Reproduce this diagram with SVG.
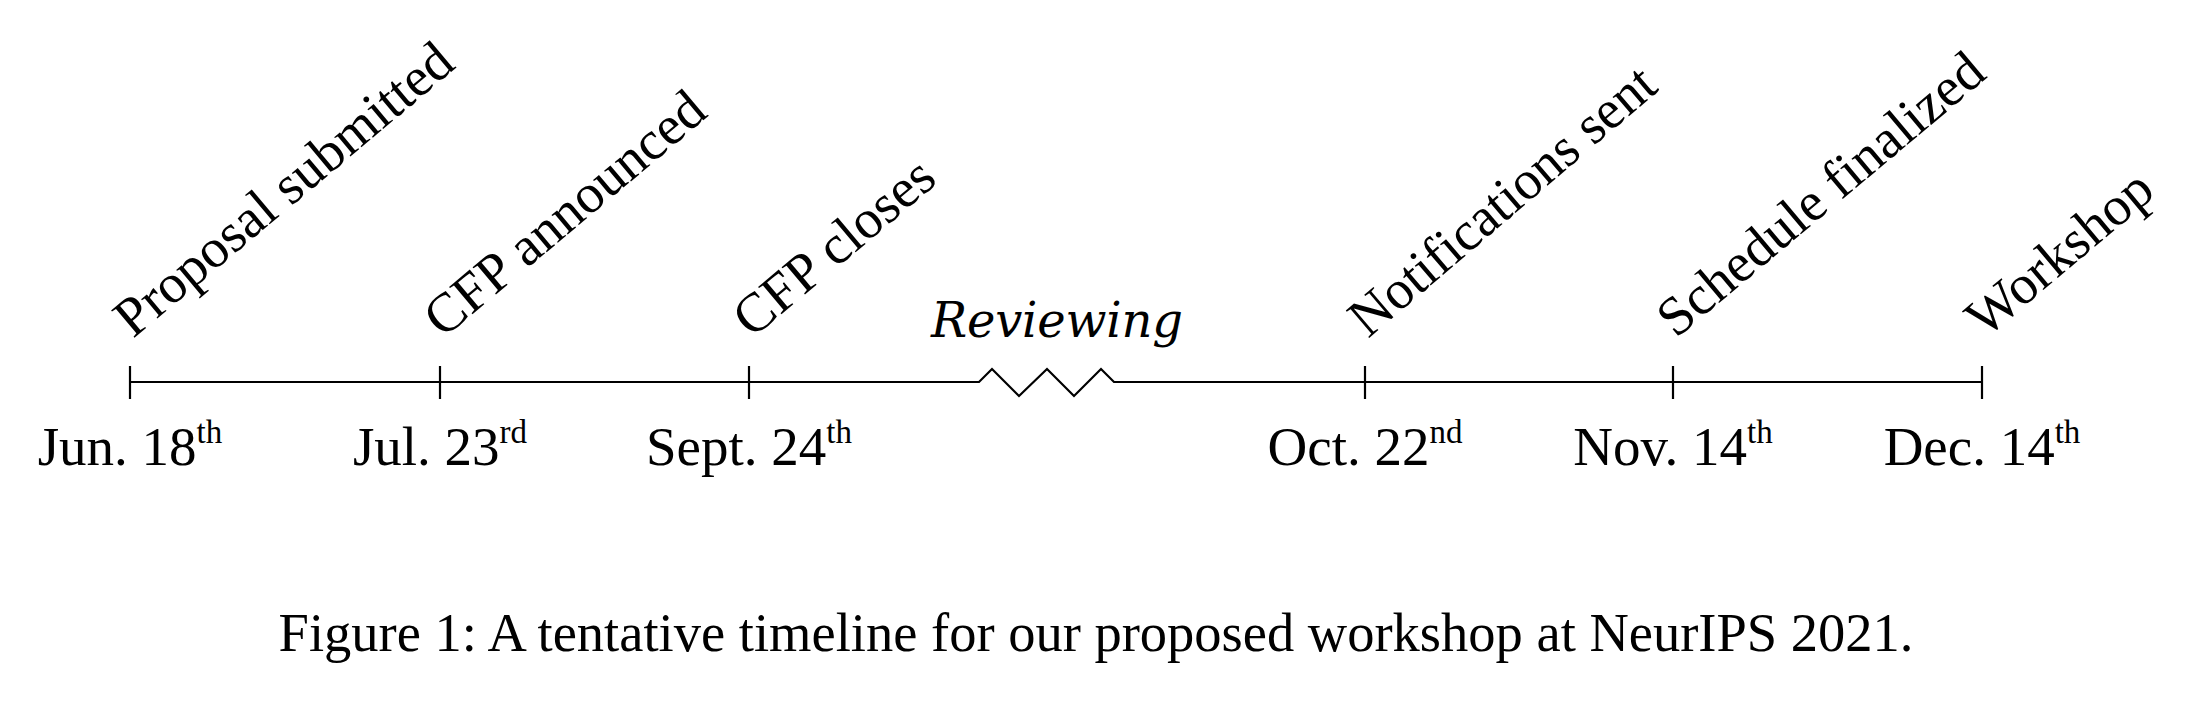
<svg xmlns="http://www.w3.org/2000/svg" width="2190" height="708" viewBox="0 0 2190 708">
<style>
.t{font-family:"Liberation Serif","Times New Roman",serif;font-size:55px;fill:#000}
.d{text-anchor:middle}
.it{font-family:"DejaVu Serif",serif;font-style:italic;font-size:48px}
.cap{font-size:54.5px}
.ln{stroke:#000;stroke-width:2.2;fill:none}
</style>
<rect width="2190" height="708" fill="#fff"/>
<g id="connectors">
<path class="ln" d="M130,382 L979,382 L992,369 L1019,396 L1047,369 L1074,396 L1101,369 L1114,382 L1982,382"/>
</g>
<g id="n1"><line class="ln" x1="130" y1="366" x2="130" y2="399"/>
<text class="t" transform="translate(133,339) rotate(-40)">Proposal submitted</text>
<text class="t d" x="130" y="465">Jun. 18<tspan dy="-22" font-size="33">th</tspan></text></g>
<g id="n2"><line class="ln" x1="440" y1="366" x2="440" y2="399"/>
<text class="t" transform="translate(443,339) rotate(-40)">CFP announced</text>
<text class="t d" x="440" y="465">Jul. 23<tspan dy="-22" font-size="33">rd</tspan></text></g>
<g id="n3"><line class="ln" x1="749" y1="366" x2="749" y2="399"/>
<text class="t" transform="translate(752,339) rotate(-40)">CFP closes</text>
<text class="t d" x="749" y="465">Sept. 24<tspan dy="-22" font-size="33">th</tspan></text></g>
<g id="review"><text class="t it d" x="1057" y="337" textLength="252" lengthAdjust="spacing">Reviewing</text></g>
<g id="n4"><line class="ln" x1="1365" y1="366" x2="1365" y2="399"/>
<text class="t" transform="translate(1368,339) rotate(-40.5)" textLength="384" lengthAdjust="spacingAndGlyphs">Notifications sent</text>
<text class="t d" x="1365" y="465">Oct. 22<tspan dy="-22" font-size="33">nd</tspan></text></g>
<g id="n5"><line class="ln" x1="1673" y1="366" x2="1673" y2="399"/>
<text class="t" transform="translate(1676,339) rotate(-40)">Schedule finalized</text>
<text class="t d" x="1673" y="465">Nov. 14<tspan dy="-22" font-size="33">th</tspan></text></g>
<g id="n6"><line class="ln" x1="1982" y1="366" x2="1982" y2="399"/>
<text class="t" transform="translate(1985,339) rotate(-40)">Workshop</text>
<text class="t d" x="1982" y="465">Dec. 14<tspan dy="-22" font-size="33">th</tspan></text></g>
<g id="caption"><text class="t cap d" x="1096" y="651">Figure 1: A tentative timeline for our proposed workshop at NeurIPS 2021.</text></g>
</svg>
